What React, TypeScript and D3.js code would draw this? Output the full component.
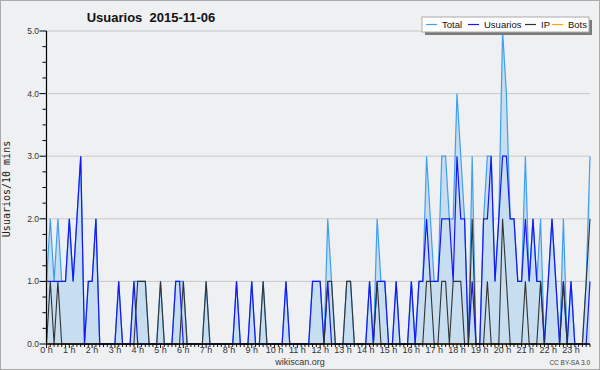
import React from "react";
import * as d3 from "d3";

const title = "Usuarios  2015-11-06";
const hours = d3.range(0, 24);
const yTicks = [0, 1, 2, 3, 4, 5];

// 10-minute samples, 00:00 .. 23:50
const usuarios = [
  1, 1, 1, 1, 1, 1, 2, 1, 2, 3,
  0, 1, 1, 2, 0, 0, 0, 0, 0, 1,
  0, 0, 0, 1, 0, 0, 0, 0, 0, 0,
  0, 0, 0, 0, 1, 1, 0, 0, 0, 0,
  0, 0, 0, 0, 0, 0, 0, 0, 0, 0,
  1, 0, 0, 0, 1, 0, 0, 0, 0, 0,
  0, 0, 0, 1, 0, 0, 0, 0, 0, 0,
  1, 1, 1, 0, 1, 0, 0, 0, 0, 0,
  0, 0, 0, 0, 0, 1, 0, 1, 1, 1,
  0, 0, 1, 0, 0, 0, 1, 0, 1, 1,
  2, 1, 1, 1, 2, 2, 2, 1, 3, 2,
  2, 0, 1, 0, 0, 2, 2, 3, 1, 2,
  3, 3, 2, 2, 1, 1, 2, 1, 2, 1,
  1, 0, 1, 2, 1, 0, 1, 0, 1, 0,
  0, 0, 0, 1,
];

const ip = [
  0, 1, 0, 1, 0, 0, 0, 0, 0, 0,
  0, 0, 0, 0, 0, 0, 0, 0, 0, 0,
  0, 0, 0, 0, 1, 1, 1, 0, 0, 0,
  1, 0, 0, 0, 0, 0, 1, 0, 0, 0,
  0, 0, 1, 0, 0, 0, 0, 0, 0, 0,
  0, 0, 0, 0, 0, 0, 0, 1, 0, 0,
  0, 0, 0, 0, 0, 0, 0, 0, 0, 0,
  0, 0, 0, 0, 1, 1, 0, 0, 0, 1,
  1, 0, 0, 0, 0, 0, 0, 1, 0, 0,
  0, 0, 0, 0, 0, 0, 0, 0, 0, 0,
  1, 1, 0, 0, 1, 1, 0, 1, 1, 1,
  0, 0, 2, 0, 0, 0, 1, 0, 0, 0,
  2, 1, 0, 0, 0, 0, 1, 0, 0, 0,
  1, 0, 0, 0, 0, 0, 1, 0, 0, 0,
  0, 0, 1, 2,
];

const total = [
  1, 2, 1, 2, 1, 1, 2, 1, 2, 3,
  0, 1, 1, 2, 0, 0, 0, 0, 0, 1,
  0, 0, 0, 1, 1, 1, 1, 0, 0, 0,
  1, 0, 0, 0, 1, 1, 1, 0, 0, 0,
  0, 0, 1, 0, 0, 0, 0, 0, 0, 0,
  1, 0, 0, 0, 1, 0, 0, 1, 0, 0,
  0, 0, 0, 1, 0, 0, 0, 0, 0, 0,
  1, 1, 1, 0, 2, 1, 0, 0, 0, 1,
  1, 0, 0, 0, 0, 1, 0, 2, 1, 1,
  0, 0, 1, 0, 0, 0, 1, 0, 1, 1,
  3, 2, 1, 1, 3, 3, 2, 2, 4, 3,
  2, 0, 3, 0, 0, 2, 3, 3, 1, 2,
  5, 4, 2, 2, 1, 1, 3, 1, 2, 1,
  2, 0, 1, 2, 1, 0, 2, 0, 1, 0,
  0, 0, 1, 3,
];

const bots = total.map(() => 0);

const legendItems = [
  { name: "Total", color: "#3f9ff2" },
  { name: "Usuarios", color: "#1717f5" },
  { name: "IP", color: "#333333" },
  { name: "Bots", color: "#ffa500" },
];

const W = 600;
const H = 370;
const X0 = 46.5;
const X1 = 590;
const Y0 = 344;
const Y1 = 31;

export default function App() {
  const x = d3.scaleLinear().domain([0, 143]).range([X0, X1]);
  const xh = d3.scaleLinear().domain([0, 23 + 5 / 6]).range([X0, X1]);
  const y = d3.scaleLinear().domain([0, 5]).range([Y0, Y1]);

  const line = d3
    .line<number>()
    .x((_, i) => x(i))
    .y((d) => y(d));
  const area = d3
    .area<number>()
    .x((_, i) => x(i))
    .y0(y(0))
    .y1((d) => y(d));

  const minorY = d3.range(0, 5.001, 0.25);
  const minorX = d3.range(0, 144);

  const legendX = [426, 468, 525, 552];
  const legendTextX = [442, 484, 541, 568];

  return (
    <svg
      width={W}
      height={H}
      style={{ position: "absolute", left: 0, top: 0 }}
      fontFamily="'Liberation Sans', Arial, sans-serif"
    >
      <rect x={0.5} y={0.5} width={W - 1} height={H - 1} fill="#eff0f2" stroke="#aaaaaa" />

      <text x={151} y={22} textAnchor="middle" fontSize={13} fontWeight="bold" fill="#111" style={{ whiteSpace: "pre" }}>
        {title}
      </text>

      {/* grid */}
      {yTicks.slice(1).map((t) => (
        <line key={"g" + t} x1={X0} x2={X1} y1={y(t)} y2={y(t)} stroke="#c8c8c8" strokeWidth={1} />
      ))}

      {/* area */}
      <path d={area(total) || ""} fill="#c2daf0" fillOpacity={0.9} />

      <path d={line(bots) || ""} fill="none" stroke="#ffa500" strokeWidth={1.2} />
      <path d={line(total) || ""} fill="none" stroke="#3f9ff2" strokeWidth={1.2} />
      <path d={line(usuarios) || ""} fill="none" stroke="#1717f5" strokeWidth={1.2} />
      <path d={line(ip) || ""} fill="none" stroke="#333333" strokeWidth={1.1} />

      {/* y axis */}
      <line x1={X0} x2={X0} y1={Y0} y2={Y1} stroke="#000" strokeWidth={1.2} />
      {minorY.map((t) => {
        const major = Math.abs(t - Math.round(t)) < 1e-6;
        return (
          <line key={"yt" + t} x1={X0 - (major ? 7 : 4)} x2={X0} y1={y(t)} y2={y(t)} stroke="#000" strokeWidth={1} />
        );
      })}
      {yTicks.map((t) => (
        <text key={"yl" + t} x={39} y={y(t) + 3} textAnchor="end" fontSize={8.5} fill="#333">
          {d3.format(".1f")(t)}
        </text>
      ))}

      {/* x axis */}
      <line x1={X0} x2={X1} y1={Y0} y2={Y0} stroke="#000" strokeWidth={1.6} />
      {minorX.map((i) => (
        <line key={"xt" + i} x1={x(i)} x2={x(i)} y1={Y0} y2={Y0 + (i % 6 === 0 ? 4 : 3)} stroke="#000" strokeWidth={0.9} />
      ))}
      {hours.map((h) => (
        <text key={"xl" + h} x={xh(h)} y={353} textAnchor="middle" fontSize={9} fill="#333">
          {h + " h"}
        </text>
      ))}

      <text
        transform="translate(10,189) rotate(-90)"
        textAnchor="middle"
        fontSize={10}
        fontFamily="'DejaVu Sans Mono', monospace"
        fill="#222"
      >
        Usuarios/10 mins
      </text>

      {/* legend */}
      <rect x={425} y={20} width={167} height={15} fill="#7a7a7a" />
      <rect x={422} y={17} width={167} height={15} fill="#ffffff" stroke="#aaaaaa" />
      {legendItems.map((it, k) => (
        <g key={it.name}>
          <line x1={legendX[k]} x2={legendX[k] + 11} y1={24.5} y2={24.5} stroke={it.color} strokeWidth={1.2} />
          <text x={legendTextX[k]} y={28} fontSize={9.5} fill="#111">
            {it.name}
          </text>
        </g>
      ))}

      <text x={300} y={365} textAnchor="middle" fontSize={9} fill="#333">
        wikiscan.org
      </text>
      <text x={590} y={365} textAnchor="end" fontSize={6.5} fill="#444">
        CC BY-SA 3.0
      </text>
    </svg>
  );
}
